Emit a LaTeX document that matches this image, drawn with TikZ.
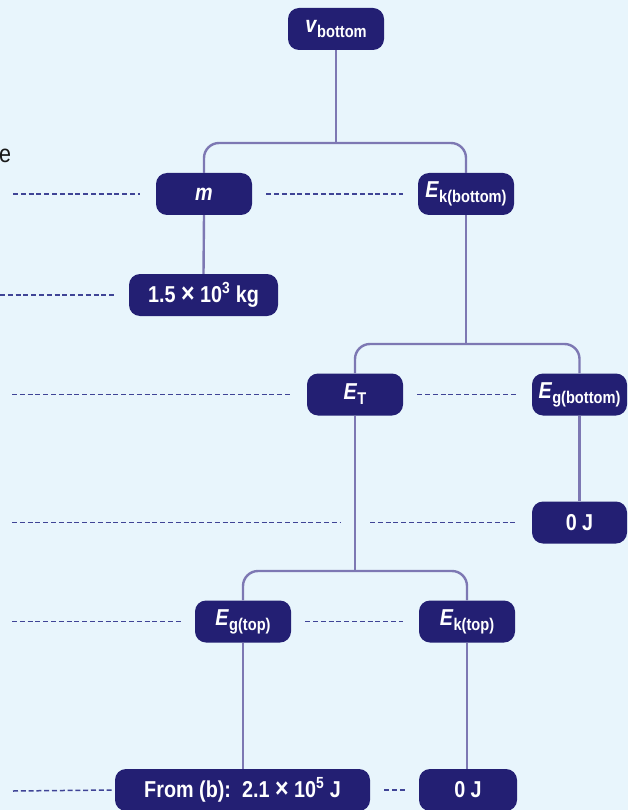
\documentclass[tikz,border=0pt]{standalone}
\usepackage{fontspec}
\setmainfont{Liberation Sans}[FakeStretch=0.86]
\definecolor{bgc}{HTML}{E8F5FC}
\definecolor{boxc}{HTML}{231F73}
\definecolor{connc}{HTML}{7D78B3}
\definecolor{dashc}{HTML}{3F4496}
\newcommand{\lsub}[1]{\raisebox{-0.22em}{\fontsize{17}{17}\selectfont #1}}
\newcommand{\btimes}{{\fontsize{27}{25}\selectfont ×}}
\begin{document}
\begin{tikzpicture}[x=1pt,y=-1pt,
  qbox/.style={fill=boxc,text=white,rounded corners=11pt,minimum width=96pt,minimum height=42pt,inner xsep=2pt,inner ysep=0pt,font=\fontsize{23}{25}\selectfont\bfseries},
  conn/.style={draw=connc,line width=2.4pt,rounded corners=15pt},
  dl/.style={draw=dashc,line width=1.5pt,dash pattern=on 5pt off 2.8pt}]
\fill[bgc] (0,0) rectangle (628,810);
\useasboundingbox (0,0) rectangle (628,810);
% partial text at left edge
\node[anchor=base west,inner sep=0pt,text=black!90,font=\fontsize{25}{27}\selectfont] (etxt) at (-1,163) {e};
% coordinates for branches
\coordinate (b1) at (336,143);
\coordinate (b2) at (466,344);
\coordinate (b3) at (355,571);
\coordinate (vbp) at (336,29);
\coordinate (mp) at (204,194);
\coordinate (ekbp) at (466,194);
\coordinate (etp) at (355,394.5);
\coordinate (egbp) at (579.5,394.5);
\coordinate (egtp) at (243,621.5);
\coordinate (ektp) at (467,621.5);
% nodes
\node[qbox] (vb) at (vbp) {\textit{v}\lsub{bottom}};
\node[qbox] (m) at (mp) {\textit{m}};
\node[qbox] (ekb) at (ekbp) {\textit{E}\lsub{k(bottom)}};
\node[qbox,minimum width=149pt] (kg) at (203.5,295) {1.5 \btimes{} 10\textsuperscript{3} kg};
\node[qbox] (et) at (etp) {\textit{E}\lsub{T}};
\node[qbox,minimum width=95pt] (egb) at (egbp) {\textit{E}\lsub{g(bottom)}};
\node[qbox,minimum width=95pt] (zj1) at (579.5,522.5) {0 J};
\node[qbox] (egt) at (egtp) {\textit{E}\lsub{g(top)}};
\node[qbox] (ekt) at (ektp) {\textit{E}\lsub{k(top)}};
\node[qbox,minimum width=255pt] (from) at (242.5,790) {From (b):\ \ 2.1 \btimes{} 10\textsuperscript{5} J};
\node[qbox,minimum width=98pt] (zj2) at (468,790) {0 J};
% tree connectors
\draw[conn] (vb.south) -- (b1);
\draw[conn] (m.north) |- (b1) -| (ekb.north);
\draw[conn] (m.south) -- (kg.north);
\draw[conn] (ekb.south) -- (b2);
\draw[conn] (et.north) |- (b2) -| (egb.north);
\draw[conn] (egb.south) -- (zj1.north);
\draw[conn] (et.south) -- (b3);
\draw[conn] (egt.north) |- (b3) -| (ekt.north);
\draw[conn] (egt.south) -- (egt.south |- from.north);
\draw[conn] (ekt.south) -- (ekt.south |- zj2.north);
% dashed guide lines
\coordinate (d1) at (13,194);
\draw[dl] (d1) -- ([xshift=-16pt]m.west);
\draw[dl] ([xshift=14pt]m.east) -- ([xshift=-15pt]ekb.west);
\coordinate (d2) at (0,295);
\draw[dl] (d2) -- ([xshift=-15pt]kg.west);
\coordinate (d3) at (12,394.5);
\draw[dl] (d3) -- ([xshift=-16pt]et.west);
\draw[dl] ([xshift=14pt]et.east) -- ([xshift=-16pt]egb.west);
\coordinate (d4) at (12,522.5);
\coordinate (d4e) at (341,522.5);
\draw[dl] (d4) -- (d4e);
\coordinate (d5) at (370,522.5);
\draw[dl] (d5) -- ([xshift=-17pt]zj1.west);
\coordinate (d6) at (12,621.5);
\draw[dl] (d6) -- ([xshift=-14pt]egt.west);
\draw[dl] ([xshift=14pt]egt.east) -- ([xshift=-16pt]ekt.west);
\coordinate (d7) at (13,791);
\draw[dl] (d7) -- ([xshift=-3pt]from.west);
\draw[dl] ([xshift=14pt]from.east) -- ([xshift=-13pt]zj2.west);
\end{tikzpicture}
\end{document}
